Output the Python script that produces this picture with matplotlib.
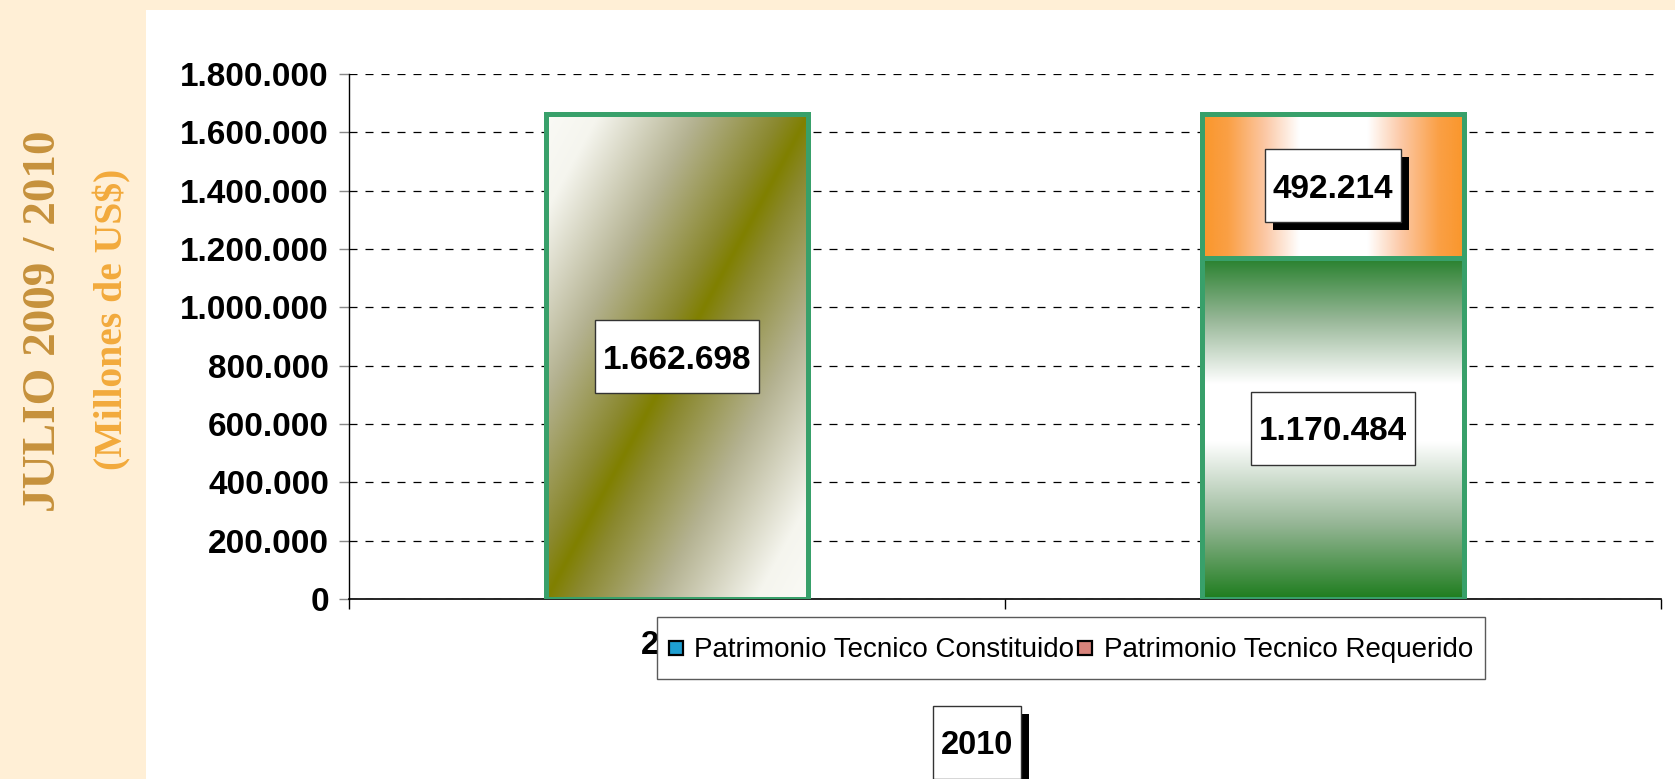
import numpy as np
import matplotlib
matplotlib.use("Agg")
import matplotlib.pyplot as plt
from matplotlib.patches import Rectangle, Patch
from matplotlib.transforms import IdentityTransform
from matplotlib.ticker import FuncFormatter
from matplotlib.legend_handler import HandlerPatch

# ---------------- data ----------------
categories = ["2010", "2010"]
bottom_values = [1662698, 1170484]
top_values = [0, 492214]
bottom_styles = ["olive_diag", "green_vert"]
top_styles = [None, "orange_horiz"]
shadow_top = [False, True]
legend_labels = ["Patrimonio Tecnico Constituido", "Patrimonio Tecnico Requerido"]
legend_colors = ["#1E9ED0", "#D8837B"]
yticks = [0, 200000, 400000, 600000, 800000, 1000000, 1200000, 1400000, 1600000, 1800000]
axis_title = "2010"
side_title = "JULIO 2009 / 2010"
side_subtitle = "(Millones de US$)"

# ---------------- style ----------------
plt.rcParams["font.family"] = ["Liberation Sans", "DejaVu Sans"]
CREAM = "#FFEFD6"
EDGE = "#38A06A"
W, H = 1675, 779

fig = plt.figure(figsize=(W / 100, H / 100), dpi=100, facecolor=CREAM)
fig.add_artist(Rectangle((146 / W, 0), 1 - 146 / W, 1 - 10 / H, transform=fig.transFigure,
                         facecolor="white", edgecolor="none", zorder=-10))

ax = fig.add_axes([349 / W, 1 - 599 / H, (1661 - 349) / W, (599 - 74) / H])
ax.set_facecolor("none")


def interp_colors(t, stops, colors):
    colors = np.array(colors, dtype=float) / 255.0
    out = np.empty(t.shape + (3,))
    for c in range(3):
        out[..., c] = np.interp(t, stops, colors[:, c])
    return out


def gradient(style, n=400):
    u = np.linspace(0, 1, n)[None, :] * np.ones((n, 1))
    v = np.linspace(0, 1, n)[:, None] * np.ones((1, n))
    if style == "olive_diag":
        t = np.abs(u - v)
        return interp_colors(t, [0, 0.1, 0.42, 0.8, 1.0],
                             [(128, 128, 0), (138, 136, 45), (180, 178, 145), (245, 245, 238), (250, 250, 246)])
    if style == "green_vert":
        return interp_colors(v, [0, 0.22, 0.46, 0.63, 0.82, 1.0],
                             [(30, 125, 30), (150, 182, 150), (255, 255, 255), (255, 255, 255),
                              (150, 182, 150), (38, 128, 44)])
    if style == "orange_horiz":
        return interp_colors(u, [0, 0.1, 0.24, 0.37, 0.63, 0.76, 0.9, 1.0],
                             [(250, 150, 42), (250, 160, 70), (252, 200, 165), (255, 255, 255),
                              (255, 255, 255), (252, 200, 165), (250, 160, 70), (250, 150, 42)])
    return None


x = np.arange(len(categories))
width = 0.40

segments = []  # (x, bottom, height, style, shadow)
for i in range(len(categories)):
    segments.append((x[i], 0, bottom_values[i], bottom_styles[i], False))
    if top_values[i] > 0:
        segments.append((x[i], bottom_values[i], top_values[i], top_styles[i], shadow_top[i]))

for xi, b, h, style, _ in segments:
    bars = ax.bar([xi], [h], bottom=[b], width=width, facecolor="none", edgecolor=EDGE,
                  linewidth=3.6, zorder=3)
    p = bars.patches[0]
    x0, y0 = p.get_x(), p.get_y()
    ax.imshow(gradient(style), extent=(x0, x0 + p.get_width(), y0, y0 + p.get_height()),
              origin="lower", aspect="auto", interpolation="bilinear", zorder=2)

ax.set_xlim(-0.5, len(categories) - 0.5)
ax.set_ylim(0, yticks[-1])

# grid and axes
ax.set_axisbelow(True)
ax.yaxis.grid(True, color="black", linestyle=(0, (6.4, 6.4)), linewidth=0.9)
ax.xaxis.grid(False)
for s in ["top", "right"]:
    ax.spines[s].set_visible(False)
ax.spines["left"].set_linewidth(1.0)
ax.spines["bottom"].set_linewidth(1.2)

ax.set_yticks(yticks)
ax.yaxis.set_major_formatter(FuncFormatter(lambda v, pos: f"{int(v):,}".replace(",", ".")))
ax.tick_params(axis="y", direction="out", length=7.2, width=1, color="#888888", pad=7.2,
               labelsize=24)
for lbl in ax.get_yticklabels():
    lbl.set_fontweight("bold")

ax.set_xticks(np.arange(len(categories) + 1) - 0.5)
ax.set_xticklabels([])
ax.set_xticks(x, minor=True)
ax.set_xticklabels(categories, minor=True)
ax.tick_params(axis="x", which="major", direction="out", length=7, width=1, color="black")
ax.tick_params(axis="x", which="minor", length=0, pad=22, labelsize=23.5)
for lbl in ax.get_xticklabels(minor=True):
    lbl.set_fontweight("bold")

# data labels
label_texts = []
for xi, b, h, style, shadow in segments:
    t = ax.text(xi, b + h / 2, f"{int(h):,}".replace(",", "."), ha="center",
                va="center_baseline", fontsize=24, fontweight="bold", zorder=6)
    label_texts.append((t, ax.transData, xi, b + h / 2, shadow, ax))

# side titles
fig.text(44 / W, 1 - 321 / H, side_title, rotation=90, ha="center", va="center",
         family="Liberation Serif", fontweight="bold", fontsize=34, color="#C6913C")
fig.text(112 / W, 1 - 319 / H, side_subtitle, rotation=90, ha="center", va="center",
         family="Liberation Serif", fontweight="bold", fontsize=28.5, color="#F2AA3C")


# legend
def square_patch(legend, orig_handle, xdescent, ydescent, width, height, fontsize):
    s = 0.5 * fontsize
    return Rectangle((-xdescent + (width - s) / 2, -ydescent + (height - s) / 2), s, s)


handles = [Patch(facecolor=c, edgecolor="black", linewidth=1.6) for c in legend_colors]
leg = fig.legend(handles, legend_labels, loc="center", bbox_to_anchor=(1071 / W, 1 - 648 / H),
                 ncol=2, prop={"family": "Liberation Sans", "size": 20}, frameon=True,
                 fancybox=False, edgecolor="#5A5A5A", framealpha=1, handlelength=0.5,
                 handleheight=1.8, handletextpad=0.42, columnspacing=0.15, borderpad=0.42,
                 borderaxespad=0,
                 handler_map={Patch: HandlerPatch(patch_func=square_patch)})
leg.get_frame().set_linewidth(1.0)
leg.set_zorder(5)

# axis title
ttl = fig.text(977 / W, 1 - 742 / H, axis_title, ha="center", va="center_baseline",
               fontsize=23.5, fontweight="bold", zorder=8)
label_texts.append((ttl, fig.transFigure, 977 / W, 1 - 742 / H, True, fig))

# boxes behind labels
fig.canvas.draw()
renderer = fig.canvas.get_renderer()
BOX_H = 73
PADX = 8
SH = 8
for t, tr, px, py, shadow, owner in label_texts:
    bb = t.get_window_extent(renderer)
    cx, cy = tr.transform((px, py))
    x0 = bb.x0 - PADX
    wbox = bb.width + 2 * PADX
    y0 = cy - BOX_H / 2
    rects = []
    if shadow:
        rects.append(Rectangle((x0 + SH, y0 - SH), wbox, BOX_H, transform=IdentityTransform(),
                               facecolor="black", edgecolor="none", zorder=t.get_zorder() - 2))
    rects.append(Rectangle((x0, y0), wbox, BOX_H, transform=IdentityTransform(),
                           facecolor="white", edgecolor="#333333", linewidth=1.0,
                           zorder=t.get_zorder() - 1))
    for r in rects:
        if owner is ax:
            ax.add_patch(r)
        else:
            fig.add_artist(r)

fig.savefig("out.png", dpi=100, facecolor=CREAM)
